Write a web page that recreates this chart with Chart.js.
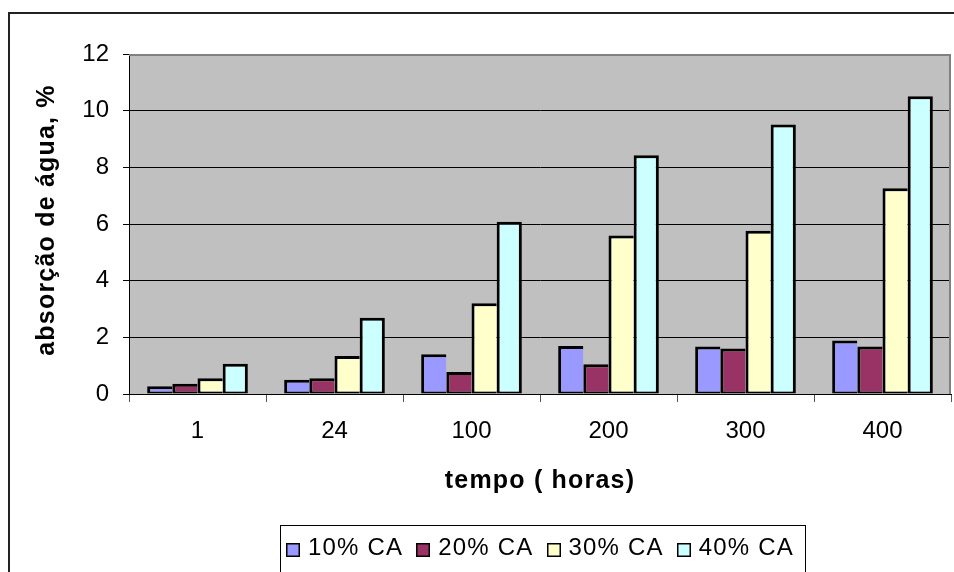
<!DOCTYPE html>
<html>
<head>
<meta charset="utf-8">
<script src="https://cdn.jsdelivr.net/npm/chart.js@4.4.1/dist/chart.umd.min.js"></script>
<style>
html,body{margin:0;padding:0;background:#fff;}
#wrap{position:relative;width:954px;height:572px;}
</style>
</head>
<body>
<div id="wrap"><canvas id="c" width="954" height="572"></canvas></div>
<script>
const categories = ['1', '24', '100', '200', '300', '400'];
const seriesNames = ['10% CA', '20% CA', '30% CA', '40% CA'];
const ca10 = [0.27, 0.50, 1.40, 1.69, 1.68, 1.89];
const ca20 = [0.36, 0.56, 0.78, 1.05, 1.61, 1.68];
const ca30 = [0.56, 1.34, 3.20, 5.59, 5.76, 7.26];
const ca40 = [1.07, 2.69, 6.08, 8.43, 9.51, 10.51];
const yTicks = [0, 2, 4, 6, 8, 10, 12];
const xTitle = 'tempo ( horas)';
const yTitle = 'absorção de água, %';

const colors = ['#9999FF', '#993366', '#FFFFCC', '#CCFFFF'];
const FONT = "'Liberation Sans', Arial, sans-serif";

const seriesData = [ca10, ca20, ca30, ca40];
const datasets = seriesData.map((d, i) => ({
  label: seriesNames[i],
  data: d,
  backgroundColor: colors[i],
  borderColor: '#000000',
  borderWidth: i < 3 ? { top: 3, left: 3, bottom: 2, right: 0 } : { top: 3, left: 3, bottom: 2, right: 3 },
  borderSkipped: false,
  inflateAmount: 0,
  categoryPercentage: 0.735,
  barPercentage: 1.0
}));

const decor = {
  id: 'decor',
  beforeDraw(chart) {
    const ctx = chart.ctx, a = chart.chartArea;
    ctx.save();
    ctx.fillStyle = '#fff';
    ctx.fillRect(0, 0, chart.width, chart.height);
    ctx.fillStyle = '#222';
    ctx.fillRect(8, 12, chart.width - 8, 2);
    ctx.fillRect(8, 12, 2, chart.height - 12);
    ctx.fillStyle = '#C0C0C0';
    ctx.fillRect(a.left, a.top, a.right - a.left, a.bottom - a.top);
    ctx.restore();
  },
  beforeDatasetsDraw(chart) {
    const ctx = chart.ctx, a = chart.chartArea;
    ctx.save();
    ctx.strokeStyle = '#808080';
    ctx.lineWidth = 2;
    ctx.beginPath();
    ctx.moveTo(a.left, a.top + 1);
    ctx.lineTo(a.right - 1, a.top + 1);
    ctx.lineTo(a.right - 1, a.bottom);
    ctx.stroke();
    ctx.restore();
  },
  afterDraw(chart) {
    const ctx = chart.ctx, a = chart.chartArea;
    const cx = (a.left + a.right) / 2;
    const cy = (a.top + a.bottom) / 2;
    ctx.save();
    ctx.fillStyle = '#000';
    ctx.font = 'bold 25px ' + FONT;
    ctx.letterSpacing = '1.2px';
    ctx.textAlign = 'center';
    ctx.textBaseline = 'alphabetic';
    ctx.fillText(xTitle, cx, 488);
    ctx.save();
    ctx.translate(54, cy - 4);
    ctx.rotate(-Math.PI / 2);
    ctx.fillText(yTitle, 0, 0);
    ctx.restore();

    ctx.font = '24px ' + FONT;
    ctx.letterSpacing = '1.2px';
    ctx.textAlign = 'left';
    const sq = 14, gap = 8, after = 13;
    const widths = chart.data.datasets.map(d => ctx.measureText(d.label).width);
    const itemW = widths.map(w => sq + gap + w + after);
    const total = itemW.reduce((s, w) => s + w, 0) - after;
    let x = cx - total / 2;
    const boxL = Math.round(x - 6) + 0.5, boxR = Math.round(x + total + 11) + 0.5;
    ctx.strokeStyle = '#000';
    ctx.lineWidth = 1;
    ctx.strokeRect(boxL, 525.5, boxR - boxL, 100);
    chart.data.datasets.forEach((d, i) => {
      ctx.fillStyle = d.backgroundColor;
      ctx.fillRect(Math.round(x), 543, sq, sq);
      ctx.strokeStyle = '#000';
      ctx.lineWidth = 1.5;
      ctx.strokeRect(Math.round(x) + 0.75, 543.75, sq - 1.5, sq - 1.5);
      ctx.fillStyle = '#000';
      ctx.fillText(d.label, x + sq + gap, 555);
      x += itemW[i];
    });
    ctx.restore();
  }
};

new Chart(document.getElementById('c'), {
  type: 'bar',
  data: { labels: categories, datasets },
  options: {
    responsive: false,
    animation: false,
    devicePixelRatio: 1,
    layout: { padding: { left: 0, right: 3, top: 54, bottom: 0 } },
    plugins: { legend: { display: false }, tooltip: { enabled: false } },
    scales: {
      x: {
        grid: { drawOnChartArea: false, drawTicks: true, tickLength: 8, tickColor: '#555', offset: true },
        border: { display: true, color: '#000', width: 1 },
        ticks: { color: '#000', font: { family: FONT, size: 24 }, padding: 15, maxRotation: 0 },
        afterFit(s) { s.height = 178; }
      },
      y: {
        min: 0, max: 12,
        afterBuildTicks(s) { s.ticks = yTicks.map(v => ({ value: v })); },
        grid: { color: '#000', lineWidth: 1, drawTicks: true, tickLength: 6, tickColor: '#000' },
        border: { display: true, color: '#000', width: 1 },
        ticks: { color: '#000', font: { family: FONT, size: 24 }, padding: 14 },
        afterFit(s) { s.width = 129; }
      }
    }
  },
  plugins: [decor]
});
</script>
</body>
</html>
